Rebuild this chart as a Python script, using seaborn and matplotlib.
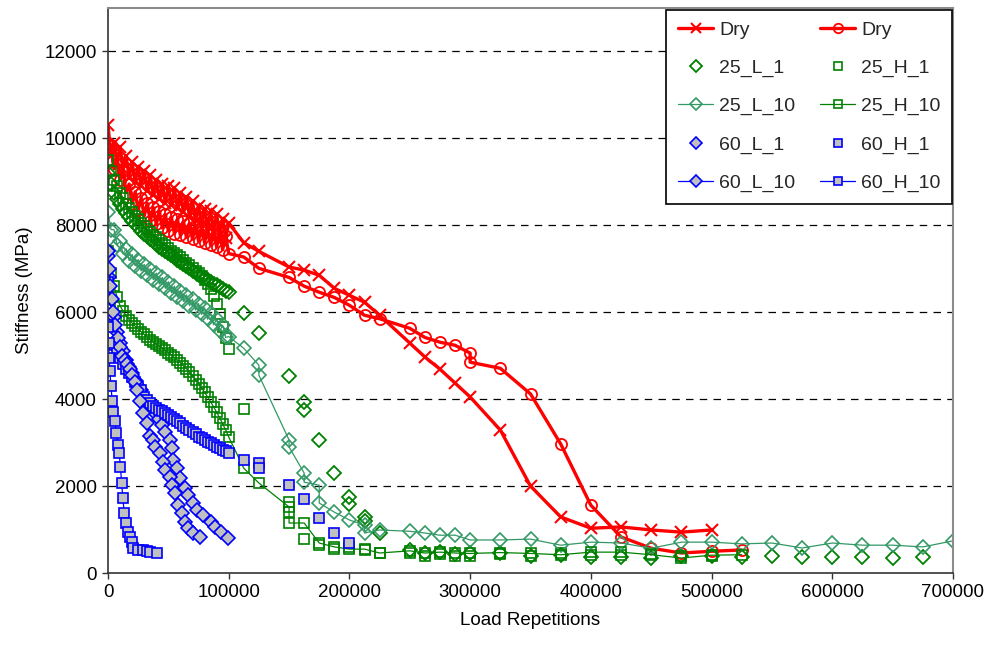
import matplotlib
matplotlib.use("Agg")
import matplotlib.pyplot as plt
import seaborn as sns
import pandas as pd

sns.set_theme(style="white")
plt.rcParams['font.family'] = ['Liberation Sans', 'DejaVu Sans']

# ---------------- data ----------------
dense_x = [0, 2500, 5000, 7500, 10000, 12500, 15000, 17500, 20000, 22500,
           25000, 27500, 30000, 32500, 35000, 37500, 40000, 42500, 45000, 47500,
           50000, 52500, 55000, 57500, 60000, 62500, 65000, 67500, 70000, 72500,
           75000, 77500, 80000, 82500, 85000, 87500, 90000, 92500, 95000, 97500,
           100000]

# Dry (x markers)
dry_x_x = dense_x + [112500, 125000, 150000, 162500, 175000, 187500, 200000, 212500,
                     225000, 250000, 262500, 275000, 287500, 300000, 325000, 350000,
                     375000, 400000, 425000, 450000, 475000, 500000]
dry_x_y = [10300, 9600, 9900, 9450, 9800, 9300, 9600, 9100, 9450, 9000,
           9350, 8900, 9250, 8800, 9150, 8700, 9050, 8600, 8950, 8520,
           8900, 8470, 8850, 8400, 8750, 8300, 8650, 8200, 8550, 8100,
           8450, 8020, 8380, 7950, 8320, 7880, 8250, 7800, 8150, 7700,
           8050,
           7600, 7400, 7040, 6970, 6850, 6550, 6390, 6230, 5930, 5290, 4970,
           4690, 4370, 4050, 3290, 2000, 1290, 1030, 1060, 990, 940, 990]

# Dry (o markers)
dry_o_x = dense_x + [112500, 125000, 150000, 162500, 175000, 187500, 200000, 212500,
                     225000, 250000, 262500, 275000, 287500, 300000, 300000, 325000,
                     350000, 375000, 400000, 425000, 450000, 475000, 500000, 525000]
dry_o_y = [9900, 9850, 9300, 9500, 9040, 9250, 8750, 8950, 8500, 8770,
           8350, 8630, 8220, 8510, 8100, 8410, 8020, 8330, 7940, 8250,
           7870, 8190, 7810, 8140, 7770, 8090, 7720, 8050, 7680, 8010,
           7640, 7970, 7600, 7920, 7550, 7870, 7500, 7820, 7440, 7750,
           7350,
           7270, 7010, 6800, 6600, 6460, 6340, 6160, 5930, 5850, 5630, 5420,
           5310, 5240, 5060, 4850, 4710, 4120, 2970, 1560, 830, 570, 460, 500, 530]

# 25_L_1 (diamonds, no line)
l25_1_x = dense_x + [112500, 125000, 150000, 162500, 162500, 175000, 187500, 200000,
                     200000, 212500, 212500, 225000, 250000, 262500, 275000, 287500,
                     300000, 325000, 350000, 375000, 400000, 425000, 450000, 475000,
                     500000, 525000, 550000, 575000, 600000, 625000, 650000, 675000]
l25_1_y = [9200, 8950, 8750, 8600, 8480, 8380, 8280, 8190, 8100, 8020,
           7950, 7880, 7810, 7750, 7690, 7630, 7570, 7510, 7460, 7410,
           7360, 7310, 7260, 7210, 7160, 7110, 7060, 7010, 6960, 6910,
           6860, 6820, 6780, 6740, 6700, 6660, 6620, 6580, 6540, 6500,
           6460,
           5980, 5520, 4530, 3930, 3750, 3060, 2300, 1750, 1590, 1290, 1200, 920,
           520, 470, 480, 430, 450, 450, 400, 420, 370, 370, 345, 400, 400,
           370, 390, 370, 370, 360, 345, 370]

# 25_H_1 (squares, no line)
h25_1_x = dense_x + [112500, 150000, 150000, 162500, 175000, 187500, 200000, 212500,
                     225000, 250000, 262500, 275000, 287500, 300000, 325000, 350000,
                     375000, 400000, 425000, 450000, 475000, 500000]
h25_1_y = [9500, 9250, 9050, 8900, 8750, 8620, 8500, 8400, 8300, 8220,
           8140, 8060, 7990, 7920, 7850, 7780, 7720, 7660, 7600, 7540,
           7480, 7420, 7370, 7320, 7260, 7200, 7140, 7080, 7020, 6960,
           6900, 6830, 6750, 6650, 6530, 6380, 6200, 5950, 5650, 5400,
           5150,
           3770, 1640, 1400, 780, 650, 560, 600, 520, 460, 450, 400, 430, 400,
           380, 440, 400, 460, 420, 420, 440, 400, 380]

# 25_L_10 (diamonds with line)
l25_10_x = dense_x + [112500, 125000, 125000, 150000, 150000, 162500, 162500, 175000,
                      175000, 187500, 200000, 212500, 212500, 225000, 250000, 262500,
                      275000, 287500, 300000, 325000, 350000, 375000, 400000, 425000,
                      450000, 475000, 500000, 525000, 550000, 575000, 600000, 625000,
                      650000, 675000, 700000]
l25_10_y = [8300, 7900, 7900, 7550, 7630, 7340, 7460, 7190, 7330, 7070,
            7210, 6950, 7100, 6850, 7000, 6750, 6900, 6650, 6800, 6550,
            6700, 6450, 6600, 6350, 6500, 6250, 6400, 6150, 6300, 6050,
            6200, 5950, 6100, 5840, 5980, 5710, 5840, 5570, 5700, 5420,
            5440,
            5170, 4780, 4550, 3060, 2900, 2300, 2090, 2020, 1610, 1400, 1220,
            1100, 920, 990, 960, 920, 870, 870, 760, 760, 780, 640, 710, 690,
            570, 710, 710, 670, 690, 575, 690, 640, 640, 600, 740]

# 25_H_10 (squares with line)
h25_10_x = dense_x + [112500, 125000, 150000, 150000, 162500, 175000, 187500, 200000,
                      212500, 225000, 250000, 262500, 275000, 287500, 300000, 325000,
                      350000, 375000, 400000, 425000, 450000, 475000, 500000, 525000]
h25_10_y = [7400, 6900, 6600, 6350, 6150, 6020, 5920, 5830, 5750, 5680,
            5610, 5550, 5490, 5430, 5370, 5320, 5270, 5220, 5170, 5120,
            5070, 5020, 4960, 4900, 4840, 4770, 4700, 4620, 4540, 4450,
            4360, 4260, 4160, 4050, 3940, 3820, 3700, 3570, 3430, 3290,
            3130,
            2410, 2070, 1520, 1150, 1150, 690, 600, 550, 550, 460, 510, 460,
            480, 460, 450, 470, 450, 420, 480, 480, 420, 345, 410, 420]

# 60_L_1 (diamonds, grey fill, no line)
l60_1_x = [0, 1000, 2500, 5000, 7500, 10000, 12500, 15000, 17500, 20000, 22500,
           25000, 27500, 30000, 32500, 35000, 37500, 40000, 42500, 45000, 47500,
           51000, 53000, 54000, 57000, 60000, 64000, 66000, 70000, 74000, 79000,
           85000, 89000, 94000, 99500]
l60_1_y = [7300, 6800, 6300, 5900, 5550, 5300, 5100, 4900, 4750, 4600, 4450,
           4300, 4200, 4050, 3950, 3850, 3750, 3650, 3550, 3400, 3250,
           3060, 2870, 2600, 2410, 2180, 1950, 1790, 1610, 1450, 1330,
           1170, 1060, 940, 800]

# 60_H_1 (squares, grey fill, no line)
h60_1_x = dense_x + [112500, 125000, 125000, 150000, 162500, 175000, 187500, 200000]
h60_1_y = [6700, 5700, 5250, 5100, 4950, 4820, 4700, 4600, 4500, 4400,
           4300, 4200, 4050, 3980, 3910, 3850, 3800, 3760, 3720, 3680,
           3640, 3590, 3540, 3490, 3440, 3390, 3340, 3290, 3240, 3190,
           3140, 3100, 3060, 3020, 2990, 2950, 2910, 2870, 2840, 2800,
           2770,
           2600, 2530, 2410, 2020, 1700, 1270, 920, 700]

# 60_L_10 (diamonds, grey fill, with line)
l60_10_x = [0, 1000, 2000, 3000, 4000, 6000, 8000, 10000, 12000, 14000, 16000,
            18000, 20000, 22000, 24000, 26500, 29000, 32000, 35000, 37000, 39000,
            43000, 45500, 47000, 51000, 53000, 55500, 58000, 61000, 64000, 66000,
            70000, 76000]
l60_10_y = [7400, 7000, 6600, 6300, 6000, 5700, 5400, 5200, 5000, 4900, 4800,
            4700, 4550, 4400, 4200, 3950, 3680, 3450, 3150, 3060, 2900,
            2760, 2550, 2370, 2210, 2020, 1840, 1560, 1380, 1170, 1040,
            920, 830]

# 60_H_10 (squares, grey fill, with line)
h60_10_x = [0, 500, 1000, 1500, 2500, 3500, 4500, 5500, 7000, 8300, 9300, 10300,
            11300, 12300, 13500, 15000, 16500, 18000, 19500, 21000, 25000, 29000,
            32000, 35000, 40500]
h60_10_y = [5650, 5300, 4950, 4650, 4300, 3950, 3700, 3500, 3220, 2950, 2760, 2440,
            2070, 1720, 1380, 1150, 950, 830, 710, 570, 530, 530,
            510, 480, 460]

x_ticks = [0, 100000, 200000, 300000, 400000, 500000, 600000, 700000]
x_tick_labels = ["0", "100000", "200000", "300000", "400000", "500000", "600000", "700000"]
y_ticks = [0, 2000, 4000, 6000, 8000, 10000, 12000]
y_tick_labels = ["0", "2000", "4000", "6000", "8000", "10000", "12000"]

# ---------------- styles ----------------
RED = "#FF0000"
DGREEN = "#008000"
SGREEN = "#339966"
BLUE = "#0000FF"
GREY = "#C0C0C0"

series = [
    ("Dry", dry_x_x, dry_x_y, dict(color=RED, marker="x", ms=9, mew=1.5, lw=2.4, mfc="none", mec=RED)),
    ("Dry ", dry_o_x, dry_o_y, dict(color=RED, marker="o", ms=8, mew=1.3, lw=2.4, mfc="none", mec=RED)),
    ("25_L_1", l25_1_x, l25_1_y, dict(color=DGREEN, marker="D", ms=7, mew=1.3, ls="none", mfc="none", mec=DGREEN)),
    ("25_H_1", h25_1_x, h25_1_y, dict(color=DGREEN, marker="s", ms=7.5, mew=1.2, ls="none", mfc="none", mec=DGREEN)),
    ("25_L_10", l25_10_x, l25_10_y, dict(color=SGREEN, marker="D", ms=7, mew=1.2, lw=0.9, mfc="none", mec=SGREEN)),
    ("25_H_10", h25_10_x, h25_10_y, dict(color=DGREEN, marker="s", ms=7.5, mew=1.2, lw=0.9, mfc="none", mec=DGREEN)),
    ("60_L_1", l60_1_x, l60_1_y, dict(color=BLUE, marker="D", ms=7, mew=1.2, ls="none", mfc=GREY, mec=BLUE)),
    ("60_H_1", h60_1_x, h60_1_y, dict(color=BLUE, marker="s", ms=7.5, mew=1.2, ls="none", mfc=GREY, mec=BLUE)),
    ("60_L_10", l60_10_x, l60_10_y, dict(color=BLUE, marker="D", ms=7, mew=1.2, lw=0.9, mfc=GREY, mec=BLUE)),
    ("60_H_10", h60_10_x, h60_10_y, dict(color=BLUE, marker="s", ms=7.5, mew=1.2, lw=0.9, mfc=GREY, mec=BLUE)),
]

fig = plt.figure(figsize=(9.91, 6.49), dpi=100)
ax = fig.add_axes([108 / 991, 1 - 573 / 649, (953 - 108) / 991, (573 - 8) / 649])

handles = {}
for name, xs, ys, st in series:
    df = pd.DataFrame({"x": xs, "y": ys})
    n_before = len(ax.lines)
    sns.lineplot(data=df, x="x", y="y", ax=ax, sort=False, estimator=None,
                 legend=False, **st)
    handles[name] = ax.lines[n_before]

ax.set_xlim(0, 700000)
ax.set_ylim(0, 13000)
ax.set_xticks(x_ticks)
ax.set_xticklabels(x_tick_labels)
ax.set_yticks(y_ticks)
ax.set_yticklabels(y_tick_labels)
ax.tick_params(axis="both", which="major", direction="out", length=4, width=1,
               color="#333333", labelsize=13.5, labelcolor="black", pad=4,
               bottom=True, left=True)

for yv in y_ticks[1:]:
    ax.axhline(yv, color="black", lw=0.9, ls=(0, (6, 5)), zorder=0.5)

for s in ["left", "bottom"]:
    ax.spines[s].set_color("#333333")
    ax.spines[s].set_linewidth(1.2)
for s in ["top", "right"]:
    ax.spines[s].set_color("#8c8c8c")
    ax.spines[s].set_linewidth(1.5)

ax.set_xlabel("Load Repetitions", fontsize=13.5, color="black", labelpad=8)
ax.set_ylabel("Stiffness (MPa)", fontsize=13.5, color="black", labelpad=8)

order = ["Dry", "25_L_1", "25_L_10", "60_L_1", "60_L_10",
         "Dry ", "25_H_1", "25_H_10", "60_H_1", "60_H_10"]
leg = ax.legend([handles[k] for k in order], [k.strip() for k in order],
                ncol=2, loc="upper right", bbox_to_anchor=(0.999, 0.997),
                borderaxespad=0, fontsize=14, frameon=True, fancybox=False,
                framealpha=1, edgecolor="black", handlelength=1.8,
                handletextpad=0.3, columnspacing=1.3, labelspacing=1.05,
                borderpad=0.6, markerscale=0.85)
leg.get_frame().set_linewidth(1.2)

fig.savefig("out.png", dpi=100)
